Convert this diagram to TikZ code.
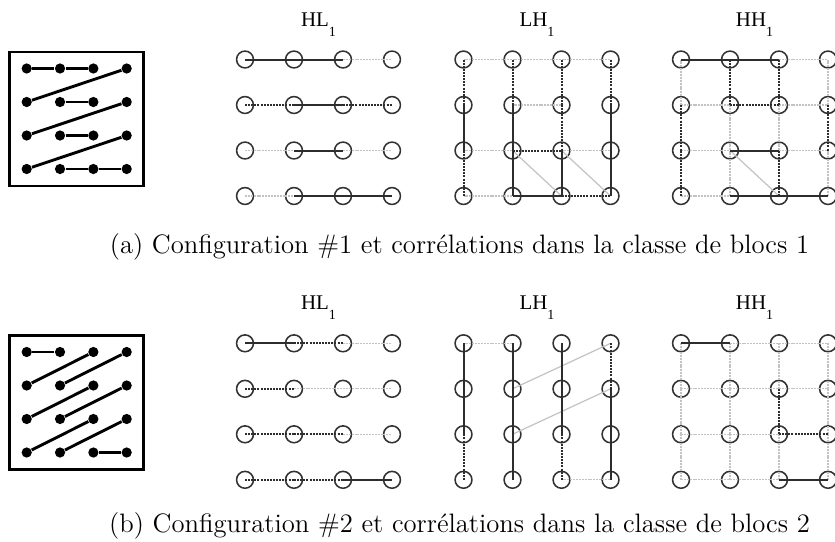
\documentclass[tikz,border=0pt]{standalone}
\usepackage{fontspec}
\usepackage{tikz}
\newfontfamily\labelfont{Liberation Serif}
\definecolor{ringgray}{RGB}{50, 50, 50}
\definecolor{linkdark}{RGB}{45, 45, 45}
\definecolor{linklight}{RGB}{195, 195, 195}

\tikzset{
  ring/.style={circle, draw=ringgray, line width=0.7pt, minimum size=7.6pt, inner sep=0pt},
  blob/.style={circle, fill=black, minimum size=4.6pt, inner sep=0pt},
  sline/.style={linkdark, line width=0.9pt},
  dline/.style={linkdark, line width=0.9pt, dash pattern=on 0.9pt off 0.5pt},
  fline/.style={linklight, line width=0.55pt, dash pattern=on 0.9pt off 0.4pt},
  diag/.style={linklight, line width=0.55pt},
  scan/.style={black, line width=1.3pt},
  boxframe/.style={draw=black, line width=1.2pt},
  gridlabel/.style={anchor=base, font=\labelfont\fontsize{9.4}{11}\selectfont},
  caption/.style={anchor=base, font=\fontsize{12}{14}\selectfont}
}

% 4x4 ring grid: prefix, x of first column, y of first row
\newcommand{\ringgrid}[3]{%
  \foreach \r in {1,...,4} {
    \foreach \c in {1,...,4} {
      \node[ring] (#1\r\c) at ({#2+(\c-1)*49}, {#3+(\r-1)*45.5}) {};
    }
  }
}
% links between rings: prefix, style, list of pairs
\newcommand{\links}[3]{%
  \foreach \p/\q in {#3} \draw[#2] (#1\p.center) -- (#1\q.center);
}
% scan order box: prefix, top edge
\newcommand{\scanbox}[2]{%
  \draw[boxframe] (9.5,#2) rectangle (143.5,{#2+134});
  \foreach \r in {1,...,4} {
    \foreach \c in {1,...,4} {
      \node[blob] (#1\r\c) at ({26.7+(\c-1)*33.33}, {#2+16.5+(\r-1)*33.5}) {};
    }
  }
}
\newcommand{\subone}{\raisebox{-4.6pt}{\fontsize{6.3}{7}\selectfont 1}}

\begin{document}
\begin{tikzpicture}[x=0.45pt, y=-0.45pt]
    \useasboundingbox (0,0) rectangle (835,541);

    % (a) scan box
    \scanbox{sa}{52}
    \foreach \p/\q in {11/12, 12/13, 14/21, 22/23, 24/31, 32/33, 34/41, 42/43, 43/44}
      \draw[scan] (sa\p) -- (sa\q);

    % (a) titles
    \node[gridlabel] (ahltitle) at (318.5, 26) {HL\subone};
    \node[gridlabel] (alhtitle) at (537, 26) {LH\subone};
    \node[gridlabel] (ahhtitle) at (754.5, 26) {HH\subone};

    % (a) HL grid
    \ringgrid{ahl}{245}{59.5}
    \links{ahl}{fline}{13/14, 31/32, 33/34, 41/42}
    \links{ahl}{dline}{21/22, 23/24}
    \links{ahl}{sline}{11/12, 12/13, 22/23, 32/33, 42/43, 43/44}

    % (a) LH grid
    \ringgrid{alh}{463.5}{59.5}
    \links{alh}{fline}{11/12, 12/13, 13/14, 22/23, 31/32, 33/34, 41/42}
    \links{alh}{diag}{32/43, 33/44}
    \links{alh}{dline}{32/33, 43/44, 11/21, 31/41, 12/22, 13/23, 23/33, 14/24}
    \links{alh}{sline}{42/43, 21/31, 22/32, 32/42, 33/43, 24/34, 34/44}

    % (a) HH grid
    \ringgrid{ahh}{681}{59.5}
    \links{ahh}{fline}{13/14, 21/22, 23/24, 31/32, 33/34, 41/42, 11/21, 22/32, 32/42, 23/33, 14/24, 34/44}
    \links{ahh}{diag}{32/43}
    \links{ahh}{dline}{22/23, 21/31, 31/41, 12/22, 13/23, 33/43, 24/34}
    \links{ahh}{sline}{11/12, 12/13, 32/33, 42/43, 43/44}

    \node[caption] (capa) at (459.5, 253.5) {(a) Configuration \#1 et corrélations dans la classe de blocs 1};

    % (b) scan box
    \scanbox{sb}{335.5}
    \foreach \p/\q in {11/12, 21/13, 22/14, 31/23, 32/24, 41/33, 42/34, 43/44}
      \draw[scan] (sb\p) -- (sb\q);

    % (b) titles
    \node[gridlabel] (bhltitle) at (318.5, 309.5) {HL\subone};
    \node[gridlabel] (blhtitle) at (537, 309.5) {LH\subone};
    \node[gridlabel] (bhhtitle) at (754.5, 309.5) {HH\subone};

    % (b) HL grid
    \ringgrid{bhl}{245}{343.3}
    \links{bhl}{fline}{13/14, 22/23, 23/24, 33/34}
    \links{bhl}{dline}{12/13, 21/22, 31/32, 32/33, 41/42, 42/43}
    \links{bhl}{sline}{11/12, 43/44}

    % (b) LH grid
    \ringgrid{blh}{463.5}{343.3}
    \links{blh}{fline}{11/12, 43/44}
    \links{blh}{diag}{22/14, 32/24}
    \links{blh}{dline}{31/41, 33/43, 14/24}
    \links{blh}{sline}{11/21, 21/31, 12/22, 22/32, 32/42, 13/23, 23/33, 24/34, 34/44}

    % (b) HH grid
    \ringgrid{bhh}{681}{343.3}
    \links{bhh}{fline}{12/13, 13/14, 21/22, 22/23, 23/24, 31/32, 32/33, 41/42, 42/43, 11/21, 21/31, 31/41, 12/22, 22/32, 32/42, 13/23, 33/43, 14/24, 24/34, 34/44}
    \links{bhh}{dline}{33/34, 23/33}
    \links{bhh}{sline}{11/12, 43/44}

    \node[caption] (capb) at (459.5, 532) {(b) Configuration \#2 et corrélations dans la classe de blocs 2};
\end{tikzpicture}
\end{document}
